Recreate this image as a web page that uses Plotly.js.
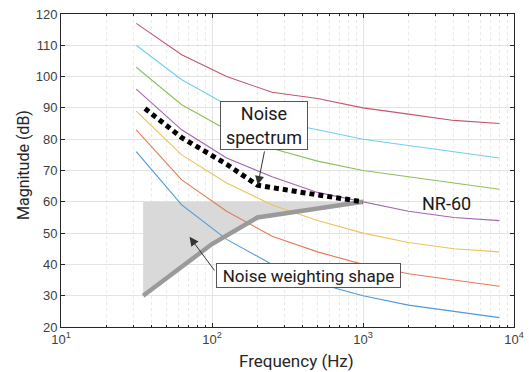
<!DOCTYPE html>
<html><head><meta charset="utf-8">
<script src="https://cdn.plot.ly/plotly-3.0.1.min.js"></script>
<style>html,body{margin:0;padding:0;background:#fff}</style>
</head><body><div id="chart" style="width:529px;height:372px"></div>
<script>
const freqs = [31.5, 63, 125, 250, 500, 1000, 2000, 4000, 8000];
const nr30 = [76, 59, 48, 40, 34, 30, 27, 25, 23];
const nr40 = [83, 67, 57, 49, 44, 40, 37, 35, 33];
const nr50 = [89, 75, 66, 59, 54, 50, 47, 45, 44];
const nr60 = [96, 83, 74, 68, 63, 60, 57, 55, 54];
const nr70 = [103, 91, 83, 77, 73, 70, 68, 66, 64];
const nr80 = [110, 99, 91, 86, 83, 80, 78, 76, 74];
const nr90 = [117, 107, 100, 95, 93, 90, 88, 86, 85];
const nrColors = ['#4d9ad8', '#e57b55', '#f0c05a', '#a263b5', '#8fbf5a', '#72cdf2', '#c4566e'];

const noiseFreq = [36, 63, 125, 200, 500, 1000];
const noiseDb = [89.8, 80.5, 72, 65.3, 62.2, 60];

const wFreq = [35, 100, 200, 1000];
const wDb = [30, 46.5, 55, 60];
const wFillTopFreq = [1000, 35];
const wFillTopDb = [60, 60];

const xTickVals = [10, 100, 1000, 10000];
const xTickText = ['10<sup>1</sup>', '10<sup>2</sup>', '10<sup>3</sup>', '10<sup>4</sup>'];
const xMinorVals = [20,30,40,50,60,70,80,90,200,300,400,500,600,700,800,900,2000,3000,4000,5000,6000,7000,8000,9000];
const yTickVals = [20,30,40,50,60,70,80,90,100,110,120];

const nrSets = [nr30, nr40, nr50, nr60, nr70, nr80, nr90];
const traces = [];
traces.push({x: wFreq.concat(wFillTopFreq), y: wDb.concat(wFillTopDb), type:'scatter', mode:'lines',
  fill:'toself', fillcolor:'#d9d9d9', line:{width:0, color:'rgba(0,0,0,0)'}, hoverinfo:'skip'});
nrSets.forEach((s, i) => traces.push({x: freqs, y: s, type:'scatter', mode:'lines',
  line:{color: nrColors[i], width:1.1}}));
traces.push({x: wFreq, y: wDb, type:'scatter', mode:'lines', line:{color:'#9a9a9a', width:4.5}});
traces.push({x: noiseFreq, y: noiseDb, type:'scatter', mode:'lines', line:{color:'#000', width:5, dash:'5px,4px'}});

const font = "'Liberation Sans', Arial, sans-serif";
const afont = "Roboto, 'Noto Sans', sans-serif";
const layout = {
  width:529, height:372, showlegend:false,
  margin:{l:61, r:14.5, t:14, b:45},
  paper_bgcolor:'#fff', plot_bgcolor:'#fff',
  font:{family:font, color:'#262626', size:13},
  xaxis:{type:'log', range:[1,4], tickmode:'array', tickvals:xTickVals, ticktext:xTickText,
    showline:true, linecolor:'#262626', linewidth:1, mirror:'allticks', ticks:'inside', ticklen:4, tickcolor:'#262626',
    showgrid:true, gridcolor:'#e3e3e3', zeroline:false,
    tickfont:{size:13, color:'#404040'},
    minor:{tickmode:'array', tickvals:xMinorVals, ticks:'inside', ticklen:2, tickcolor:'#262626', showgrid:true, gridcolor:'#e9e9e9', griddash:'dot'}},
  yaxis:{range:[20,120], tickmode:'array', tickvals:yTickVals,
    showline:true, linecolor:'#262626', linewidth:1, mirror:'allticks', ticks:'inside', ticklen:4, tickcolor:'#262626',
    showgrid:true, gridcolor:'#e3e3e3', zeroline:false,
    tickfont:{size:13, color:'#404040'}},
  annotations:[
    {x:0.519, y:-0.1086, xref:'paper', yref:'paper', text:'Frequency (Hz)', showarrow:false,
     font:{family:afont, size:17, color:'#262626'}, xanchor:'center', yanchor:'middle'},
    {x:-0.0816, y:0.5176, xref:'paper', yref:'paper', text:'Magnitude (dB)', showarrow:false, textangle:-90,
     font:{family:afont, size:16, color:'#262626'}, xanchor:'center', yanchor:'middle'},
    {x:Math.log10(201), y:65.4, xref:'x', yref:'y', text:'', showarrow:true, axref:'pixel', ayref:'pixel',
     ax:7, ay:-35, arrowhead:2, arrowsize:1.8, arrowwidth:1, arrowcolor:'#333'},
    {x:Math.log10(222), y:84.5, xref:'x', yref:'y', text:'Noise<br>spectrum', showarrow:false,
     font:{family:afont, size:18, color:'#1a1a1a'}, bgcolor:'#fff', bordercolor:'#555', borderwidth:1, borderpad:1,
     width:84, height:45},
    {x:Math.log10(71), y:48.8, xref:'x', yref:'y', text:'', showarrow:true, axref:'pixel', ayref:'pixel',
     ax:26, ay:35, arrowhead:2, arrowsize:1.8, arrowwidth:1, arrowcolor:'#333'},
    {x:Math.log10(433), y:36.5, xref:'x', yref:'y', text:'Noise weighting shape', showarrow:false,
     font:{family:afont, size:17, color:'#1a1a1a'}, bgcolor:'#fff', bordercolor:'#555', borderwidth:1, borderpad:1,
     width:181, height:21},
    {x:Math.log10(3556), y:59.5, xref:'x', yref:'y', text:'NR-60', showarrow:false,
     font:{family:afont, size:18, color:'#1a1a1a'}}
  ]
};
Plotly.newPlot('chart', traces, layout, {displayModeBar:false, staticPlot:true});
</script></body></html>
